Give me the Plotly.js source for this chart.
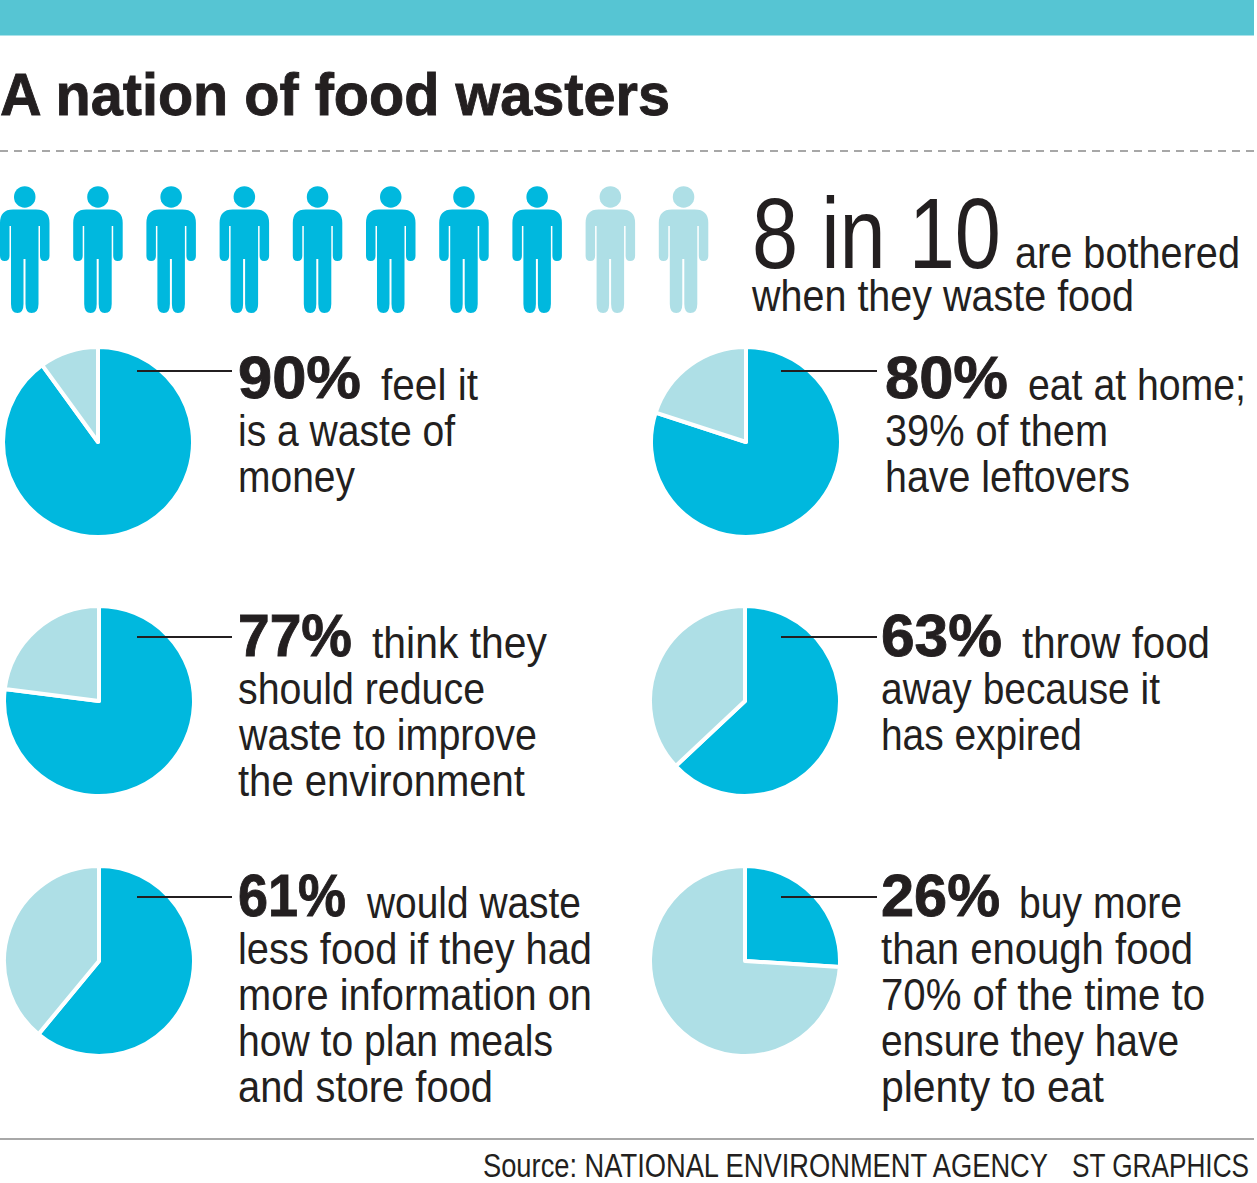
<!DOCTYPE html>
<html><head><meta charset="utf-8">
<script src="https://cdn.plot.ly/plotly-3.0.1.min.js"></script>
<style>html,body{margin:0;padding:0;background:#fff}</style></head>
<body><div id="c" style="width:1257px;height:1183px"></div>
<script>
const titleText = "A nation of food wasters";
const peopleTotal = 10, peopleFilled = 8;
const percents = [90, 80, 77, 63, 61, 26];
const pctLabels = ["90%", "80%", "77%", "63%", "61%", "26%"];
const firstLines = ["feel it", "eat at home;", "think they", "throw food", "would waste", "buy more"];
const restLines = [
  ["is a waste of", "money"],
  ["39% of them", "have leftovers"],
  ["should reduce", "waste to improve", "the environment"],
  ["away because it", "has expired"],
  ["less food if they had", "more information on", "how to plan meals", "and store food"],
  ["than enough food", "70% of the time to", "ensure they have", "plenty to eat"]
];
const pieCx = [98, 746, 99, 745, 99, 745];
const pieCy = [442, 442, 701, 701, 961, 961];
const textX = [238, 885, 238, 881, 238, 881];
const restX = [381, 1028, 372, 1022, 366, 1019];
const baseY = [400, 400, 658, 658, 918, 918];
const pctWidths = [123, 123, 114, 121, 108, 119];
const firstEnds = [478, 1246, 547, 1210, 580, 1182];
const restEnds = [
  [455, 355],
  [1108, 1130],
  [485, 536, 525],
  [1160, 1082],
  [592, 592, 553, 493],
  [1193, 1205, 1179, 1104]
];
const leaderY = [371, 371, 637, 637, 897, 897];
const leaderX0 = [137, 781, 137, 781, 137, 781];
const leaderX1 = [232, 877, 232, 877, 232, 877];
const DARK = "#231f20", BLUE = "#00b8de", LIGHT = "#aedfe6";
const W = 1257, H = 1183, R = 95, LH = 46;
const SANS = '"Liberation Sans",sans-serif';

const traces = percents.map((p, i) => ({
  type: "pie", values: [p, 100 - p], sort: false, direction: "clockwise", rotation: 0,
  textinfo: "none", hoverinfo: "skip", showlegend: false,
  marker: {colors: [BLUE, LIGHT], line: {color: "#fff", width: 4}},
  domain: {x: [(pieCx[i] - R) / W, (pieCx[i] + R) / W], y: [1 - (pieCy[i] + R) / H, 1 - (pieCy[i] - R) / H]}
}));

const ann = [], fits = [];
function txt(x, base, text, size, width, bold) {
  ann.push({xref: "x", yref: "y", x: x, y: base - size * 0.345, xanchor: "left", yanchor: "middle", align: "left", showarrow: false,
    text: bold ? "<b>" + text + "</b>" : text, borderpad: 0, borderwidth: 0,
    font: {family: SANS, size: size, color: DARK}});
  fits.push({w: width, bold: !!bold});
}
percents.forEach((p, i) => {
  txt(textX[i], baseY[i] - 1.5, pctLabels[i], 60, pctWidths[i], true);
  txt(restX[i], baseY[i] - 0.5, firstLines[i], 44, firstEnds[i] - restX[i]);
  restLines[i].forEach((l, j) => txt(textX[i], baseY[i] + LH * (j + 1) - 0.5, l, 44, restEnds[i][j] - textX[i]));
});
txt(752, 267, "8 in 10", 100, 249);
txt(1015, 268, "are bothered", 44, 225);
txt(751, 311, "when they waste food", 44, 382);
txt(483, 1177, "Source: NATIONAL ENVIRONMENT AGENCY", 33, 565);
txt(1072, 1177, "ST GRAPHICS", 33, 177);

function person(x, color) {
  const a = v => (v + x).toFixed(1);
  const body = ["M", a(13), 209.5, "L", a(36), 209.5, "Q", a(49.5), 209.5, a(49.5), 223, "L", a(49.5), 256,
    "Q", a(49.5), 261, a(44.5), 261, "Q", a(40), 261, a(40), 256, "L", a(40), 226, "L", a(38.5), 226, "L", a(38.5), 304,
    "Q", a(38.5), 313, a(31.5), 313, "Q", a(25.5), 313, a(25.5), 304, "L", a(25.5), 259, "L", a(23.5), 259, "L", a(23.5), 304,
    "Q", a(23.5), 313, a(17.5), 313, "Q", a(11), 313, a(11), 304, "L", a(11), 226, "L", a(9.5), 226, "L", a(9.5), 256,
    "Q", a(9.5), 261, a(4.7), 261, "Q", a(0), 261, a(0), 256, "L", a(0), 223, "Q", a(0), 209.5, a(13), 209.5, "Z"].join(" ");
  return [
    {type: "path", xref: "x", yref: "y", path: body, fillcolor: color, line: {width: 0}},
    {type: "circle", xref: "x", yref: "y", x0: x + 14, x1: x + 35.5, y0: 186.2, y1: 207.7, fillcolor: color, line: {width: 0}}
  ];
}
const shapes = [
  {type: "rect", xref: "x", yref: "y", x0: 0, x1: 1254, y0: 0, y1: 35.5, fillcolor: "#56c5d3", line: {width: 0}},
  {type: "line", xref: "x", yref: "y", x0: 0, x1: 1254, y0: 151, y1: 151, line: {color: "#8a8a8a", width: 1.5, dash: "8px,6px"}},
  {type: "line", xref: "x", yref: "y", x0: 0, x1: 1254, y0: 1139, y1: 1139, line: {color: "#a8a8a8", width: 2}}
];
for (let i = 0; i < peopleTotal; i++) shapes.push(...person(i * 73.2, i < peopleFilled ? BLUE : LIGHT));
percents.forEach((p, i) => shapes.push({type: "line", xref: "x", yref: "y", layer: "above",
  x0: leaderX0[i], x1: leaderX1[i], y0: leaderY[i], y1: leaderY[i], line: {color: DARK, width: 2}}));

const layout = {
  width: W, height: H, margin: {l: 0, r: 0, t: 0, b: 0}, paper_bgcolor: "#fff", plot_bgcolor: "#fff", showlegend: false,
  title: {text: "<b>" + titleText + "</b>", x: 0, xref: "paper", xanchor: "left", y: 1 - 94 / H, yanchor: "middle",
    font: {family: SANS, size: 60, color: DARK}},
  xaxis: {range: [0, W], visible: false, fixedrange: true},
  yaxis: {range: [H, 0], visible: false, fixedrange: true},
  shapes: shapes, annotations: ann
};
function fitText(el, width) {
  el.setAttribute("textLength", width.toFixed(1));
  el.setAttribute("lengthAdjust", "spacingAndGlyphs");
}
Plotly.newPlot("c", traces, layout, {displayModeBar: false, staticPlot: true}).then(() => {
  const els = document.querySelectorAll("#c .annotation-text");
  els.forEach((el, i) => {
    const ft = fits[i];
    fitText(el, ft.w);
    if (ft.bold) { el.style.stroke = DARK; el.style.strokeWidth = "0.9px"; }
    const g = el.closest(".annotation");
    if (g) g.querySelectorAll("rect").forEach(r => r.setAttribute("width", ft.w));
  });
  const t = document.querySelector("#c .gtitle");
  if (t) { fitText(t, 670); t.style.stroke = DARK; t.style.strokeWidth = "0.9px"; }
});
</script></body></html>
